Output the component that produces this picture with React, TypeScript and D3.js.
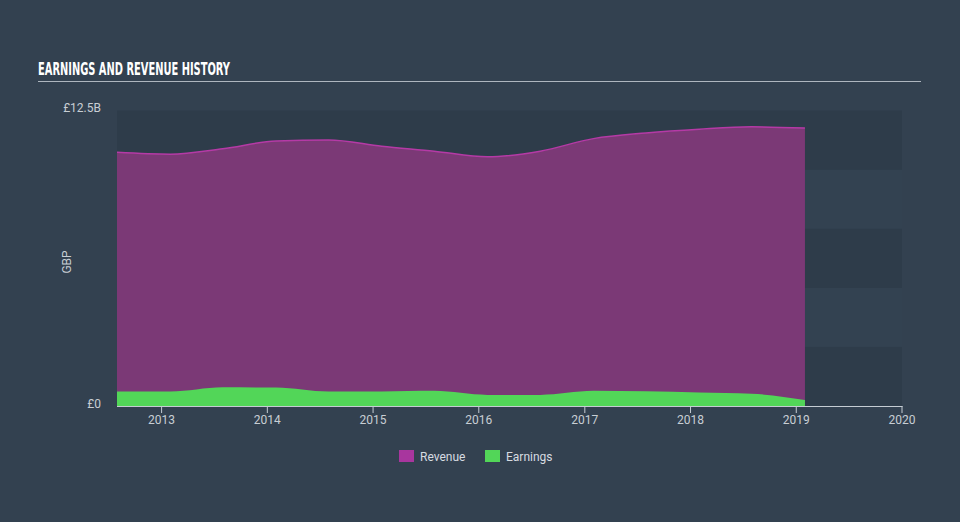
import React from "react";
import * as d3 from "d3";

const dates = [
  "2012-07-31", "2013-01-31", "2013-07-31", "2014-01-31", "2014-07-31",
  "2015-01-31", "2015-07-31", "2016-01-31", "2016-07-31", "2017-01-31",
  "2017-07-31", "2018-01-31", "2018-07-31", "2019-01-31",
];
const revenue = [10.73, 10.65, 10.88, 11.21, 11.25, 10.99, 10.78, 10.54, 10.78, 11.31, 11.55, 11.71, 11.81, 11.76];
const earnings = [0.61, 0.61, 0.79, 0.78, 0.61, 0.61, 0.64, 0.47, 0.47, 0.64, 0.62, 0.57, 0.52, 0.25];
const xTicks = ["2013", "2014", "2015", "2016", "2017", "2018", "2019", "2020"];
const yTickLabels = ["£0", "£12.5B"];
const yMax = 12.5;

const W = 960, H = 522;
const L = 117, R = 902, T = 110.5, B = 406;
const BG = "#334150";

export default function App() {
  const parse = d3.timeParse("%Y-%m-%d");
  const pts = dates.map((d, i) => ({ t: parse(d)!, r: revenue[i], e: earnings[i] }));
  const x = d3.scaleTime().domain([pts[0].t, new Date(2020, 0, 1)]).range([L, R]);
  const y = d3.scaleLinear().domain([0, yMax]).range([B, T]);
  const curve = d3.curveMonotoneX;
  const revArea = d3.area<any>().x(d => x(d.t)).y0(y(0)).y1(d => y(d.r)).curve(curve);
  const revLine = d3.line<any>().x(d => x(d.t)).y(d => y(d.r)).curve(curve);
  const earnArea = d3.area<any>().x(d => x(d.t)).y0(y(0)).y1(d => y(d.e)).curve(curve);
  const bands = d3.range(5).map(i => ({ y0: y((i + 1) * 2.5), y1: y(i * 2.5), dark: i % 2 === 0 }));
  const font = "Roboto, 'Open Sans', sans-serif";

  return (
    <svg width={W} height={H} style={{ position: "absolute", left: 0, top: 0, display: "block" }}>
      <rect x={0} y={0} width={W} height={H} fill={BG} />
      <text x={38} y={75} fill="#ffffff" fontFamily="'DejaVu Sans Condensed', 'Liberation Sans Narrow', sans-serif" fontWeight="bold" fontSize={18} textLength={192} lengthAdjust="spacingAndGlyphs">
        EARNINGS AND REVENUE HISTORY
      </text>
      <line x1={38} x2={921} y1={81.5} y2={81.5} stroke="#aeb6bf" strokeWidth={1.2} />
      {bands.map((b, i) => (
        <rect key={i} x={L} y={b.y0} width={R - L} height={b.y1 - b.y0} fill={b.dark ? "#2e3c4a" : "#334251"} />
      ))}
      <path d={revArea(pts) || ""} fill="#7b3976" />
      <path d={revLine(pts) || ""} fill="none" stroke="#b53aa6" strokeWidth={1.5} />
      <path d={earnArea(pts) || ""} fill="#52d658" />
      <line x1={L} x2={R + 0.5} y1={B + 0.5} y2={B + 0.5} stroke="#c5ccd3" strokeWidth={1} />
      {xTicks.map(t => {
        const xv = x(new Date(+t, 0, 1));
        return (
          <g key={t}>
            <line x1={xv} x2={xv} y1={B} y2={B + 7} stroke="#c5ccd3" strokeWidth={1} />
            <text x={xv} y={424} textAnchor="middle" fill="#c8ced4" fontSize={12} fontFamily={font}>{t}</text>
          </g>
        );
      })}
      <text x={101} y={112} textAnchor="end" fill="#c8ced4" fontSize={12} fontFamily={font}>{yTickLabels[1]}</text>
      <text x={101} y={408} textAnchor="end" fill="#c8ced4" fontSize={12} fontFamily={font}>{yTickLabels[0]}</text>
      <text transform="translate(71,262) rotate(-90)" textAnchor="middle" fill="#c8ced4" fontSize={12} fontFamily={font}>GBP</text>
      <rect x={399} y={450} width={15} height={12} fill="#a8369e" />
      <text x={420} y={461} fill="#d7dce1" fontSize={12} fontFamily={font}>Revenue</text>
      <rect x={485} y={450} width={15} height={12} fill="#52d658" />
      <text x={506} y={461} fill="#d7dce1" fontSize={12} fontFamily={font}>Earnings</text>
    </svg>
  );
}
